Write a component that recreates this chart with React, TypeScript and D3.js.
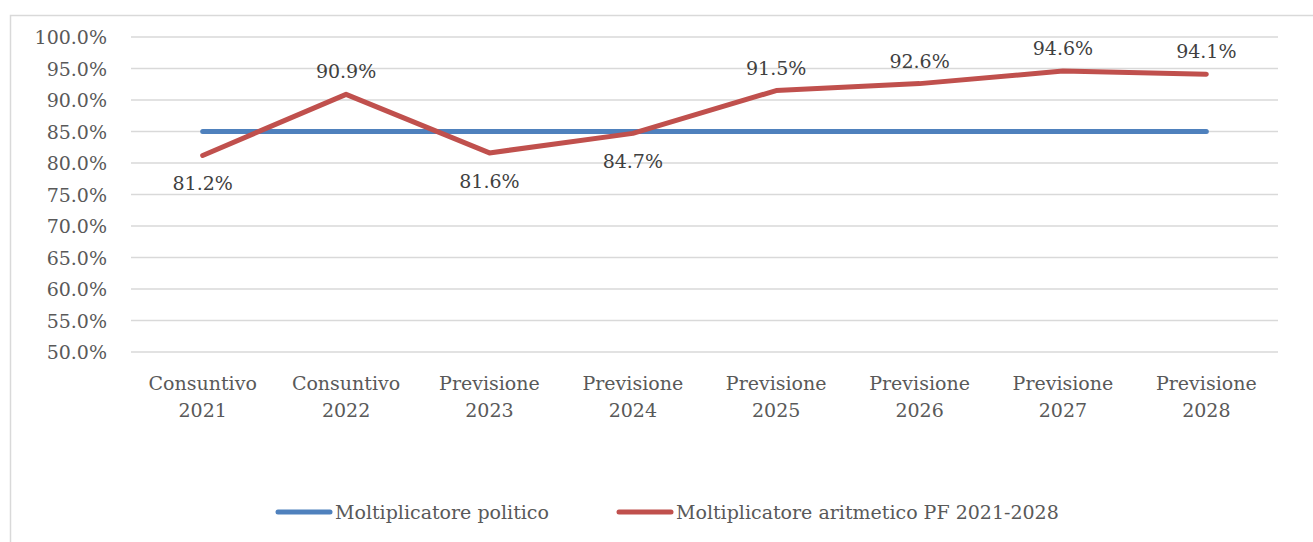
import React from "react";
import * as d3 from "d3";

const categories: string[][] = [
  ["Consuntivo", "2021"],
  ["Consuntivo", "2022"],
  ["Previsione", "2023"],
  ["Previsione", "2024"],
  ["Previsione", "2025"],
  ["Previsione", "2026"],
  ["Previsione", "2027"],
  ["Previsione", "2028"],
];
const politico: number[] = [85, 85, 85, 85, 85, 85, 85, 85];
const aritmetico: number[] = [81.2, 90.9, 81.6, 84.7, 91.5, 92.6, 94.6, 94.1];
const labelPlacement: string[] = ["below", "above", "below", "below", "above", "above", "above", "above"];
const yTicks: number[] = [50, 55, 60, 65, 70, 75, 80, 85, 90, 95, 100];
const seriesNames: string[] = ["Moltiplicatore politico", "Moltiplicatore aritmetico PF 2021-2028"];

const W = 1313;
const H = 542;
const FONT = "'DejaVu Serif', 'Liberation Serif', serif";

export default function App() {
  const x = d3
    .scaleBand<number>()
    .domain(categories.map((_, i) => i))
    .range([131, 1278]);
  const y = d3.scaleLinear().domain([50, 100]).range([352, 37]);
  const cx = (i: number) => (x(i) as number) + x.bandwidth() / 2;

  const line = d3
    .line<number>()
    .x((_, i) => cx(i))
    .y((d) => y(d));

  const fmt = (v: number) => v.toFixed(1) + "%";

  return (
    <svg
      width={W}
      height={H}
      style={{ position: "absolute", left: 0, top: 0, background: "#fff" }}
    >
      <rect x={10.5} y={15.5} width={W + 10} height={H + 10} fill="#fff" stroke="#d9d9d9" strokeWidth={1.5} />
      {yTicks.map((t) => (
        <g key={t}>
          <line x1={131} x2={1278} y1={y(t)} y2={y(t)} stroke="#d9d9d9" strokeWidth={1.5} />
          <text
            x={107}
            y={y(t)}
            textAnchor="end"
            dominantBaseline="central"
            fontFamily={FONT}
            fontSize={19}
            fill="#595959"
          >
            {t.toFixed(1) + "%"}
          </text>
        </g>
      ))}
      {categories.map((c, i) => (
        <g key={i}>
          <text x={cx(i)} y={383} textAnchor="middle" dominantBaseline="central" fontFamily={FONT} fontSize={19} fill="#595959">
            {c[0]}
          </text>
          <text x={cx(i)} y={410} textAnchor="middle" dominantBaseline="central" fontFamily={FONT} fontSize={19} fill="#595959">
            {c[1]}
          </text>
        </g>
      ))}
      <path d={line(politico) || ""} fill="none" stroke="#4f81bd" strokeWidth={5} strokeLinecap="round" strokeLinejoin="round" />
      <path d={line(aritmetico) || ""} fill="none" stroke="#c0504d" strokeWidth={5} strokeLinecap="round" strokeLinejoin="round" />
      {aritmetico.map((v, i) => (
        <text
          key={i}
          x={cx(i)}
          y={y(v) + (labelPlacement[i] === "above" ? -23 : 28)}
          textAnchor="middle"
          dominantBaseline="central"
          fontFamily={FONT}
          fontSize={19}
          fill="#404040"
        >
          {fmt(v)}
        </text>
      ))}
      <g>
        <line x1={278} x2={330} y1={512} y2={512} stroke="#4f81bd" strokeWidth={5} strokeLinecap="round" />
        <text x={335} y={512} dominantBaseline="central" fontFamily={FONT} fontSize={19} fill="#595959">
          {seriesNames[0]}
        </text>
        <line x1={619} x2={671} y1={512} y2={512} stroke="#c0504d" strokeWidth={5} strokeLinecap="round" />
        <text x={676} y={512} dominantBaseline="central" fontFamily={FONT} fontSize={19} fill="#595959">
          {seriesNames[1]}
        </text>
      </g>
    </svg>
  );
}
